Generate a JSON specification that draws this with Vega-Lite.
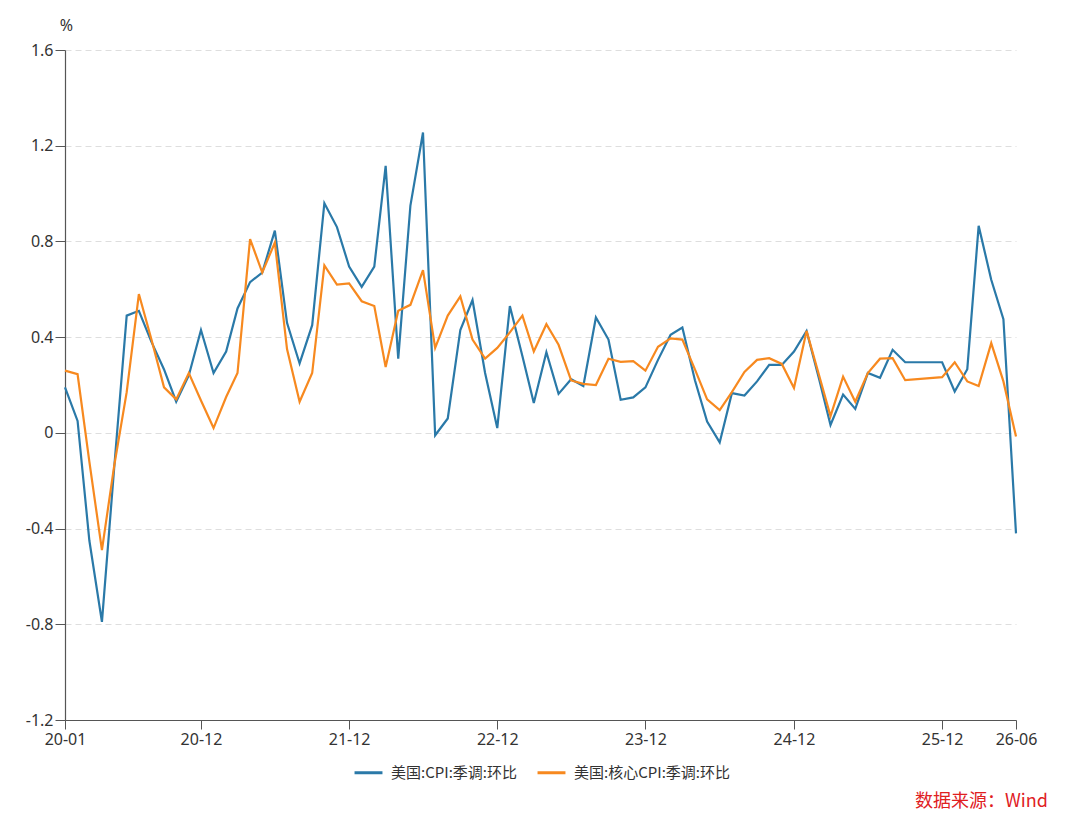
{
  "$schema": "https://vega.github.io/schema/vega-lite/v6.json",
  "autosize": {"type": "none"},
  "padding": {"left": 65, "top": 50, "right": 64, "bottom": 106},
  "width": 951,
  "height": 670,
  "title": {
    "text": "数据来源：Wind",
    "orient": "bottom",
    "anchor": "end",
    "dx": 11,
    "offset": 12,
    "font": "Noto Sans CJK SC",
    "fontSize": 18,
    "fontWeight": "normal",
    "color": "#e0201f"
  },
  "data": {
    "values": [
      {"month": "2020-01", "cpi": 0.19, "core": 0.26},
      {"month": "2020-02", "cpi": 0.05, "core": 0.245},
      {"month": "2020-03", "cpi": -0.45, "core": -0.12},
      {"month": "2020-04", "cpi": -0.79, "core": -0.49},
      {"month": "2020-05", "cpi": -0.15, "core": -0.14},
      {"month": "2020-06", "cpi": 0.49, "core": 0.17},
      {"month": "2020-07", "cpi": 0.51, "core": 0.58},
      {"month": "2020-08", "cpi": 0.38, "core": 0.39},
      {"month": "2020-09", "cpi": 0.265, "core": 0.19},
      {"month": "2020-10", "cpi": 0.13, "core": 0.14},
      {"month": "2020-11", "cpi": 0.24, "core": 0.25},
      {"month": "2020-12", "cpi": 0.43, "core": 0.135},
      {"month": "2021-01", "cpi": 0.25, "core": 0.02},
      {"month": "2021-02", "cpi": 0.34, "core": 0.15},
      {"month": "2021-03", "cpi": 0.52, "core": 0.25},
      {"month": "2021-04", "cpi": 0.63, "core": 0.81},
      {"month": "2021-05", "cpi": 0.67, "core": 0.67},
      {"month": "2021-06", "cpi": 0.845, "core": 0.795},
      {"month": "2021-07", "cpi": 0.46, "core": 0.35},
      {"month": "2021-08", "cpi": 0.29, "core": 0.13},
      {"month": "2021-09", "cpi": 0.45, "core": 0.25},
      {"month": "2021-10", "cpi": 0.96, "core": 0.7},
      {"month": "2021-11", "cpi": 0.86, "core": 0.62},
      {"month": "2021-12", "cpi": 0.695, "core": 0.625},
      {"month": "2022-01", "cpi": 0.61, "core": 0.55},
      {"month": "2022-02", "cpi": 0.695, "core": 0.53},
      {"month": "2022-03", "cpi": 1.116, "core": 0.275},
      {"month": "2022-04", "cpi": 0.31, "core": 0.51},
      {"month": "2022-05", "cpi": 0.95, "core": 0.535},
      {"month": "2022-06", "cpi": 1.255, "core": 0.68},
      {"month": "2022-07", "cpi": -0.01, "core": 0.355},
      {"month": "2022-08", "cpi": 0.06, "core": 0.49},
      {"month": "2022-09", "cpi": 0.43, "core": 0.57},
      {"month": "2022-10", "cpi": 0.555, "core": 0.39},
      {"month": "2022-11", "cpi": 0.25, "core": 0.31},
      {"month": "2022-12", "cpi": 0.02, "core": 0.355},
      {"month": "2023-01", "cpi": 0.53, "core": 0.42},
      {"month": "2023-02", "cpi": 0.32, "core": 0.49},
      {"month": "2023-03", "cpi": 0.125, "core": 0.34},
      {"month": "2023-04", "cpi": 0.337, "core": 0.454},
      {"month": "2023-05", "cpi": 0.163, "core": 0.368},
      {"month": "2023-06", "cpi": 0.224, "core": 0.219},
      {"month": "2023-07", "cpi": 0.196, "core": 0.205},
      {"month": "2023-08", "cpi": 0.482, "core": 0.2},
      {"month": "2023-09", "cpi": 0.39, "core": 0.31},
      {"month": "2023-10", "cpi": 0.138, "core": 0.297},
      {"month": "2023-11", "cpi": 0.148, "core": 0.3},
      {"month": "2023-12", "cpi": 0.19, "core": 0.26},
      {"month": "2024-01", "cpi": 0.305, "core": 0.36},
      {"month": "2024-02", "cpi": 0.41, "core": 0.395},
      {"month": "2024-03", "cpi": 0.44, "core": 0.39},
      {"month": "2024-04", "cpi": 0.22, "core": 0.265},
      {"month": "2024-05", "cpi": 0.047, "core": 0.14},
      {"month": "2024-06", "cpi": -0.04, "core": 0.095},
      {"month": "2024-07", "cpi": 0.166, "core": 0.17},
      {"month": "2024-08", "cpi": 0.156, "core": 0.255},
      {"month": "2024-09", "cpi": 0.215, "core": 0.305},
      {"month": "2024-10", "cpi": 0.284, "core": 0.312},
      {"month": "2024-11", "cpi": 0.284, "core": 0.288},
      {"month": "2024-12", "cpi": 0.34, "core": 0.187},
      {"month": "2025-01", "cpi": 0.426, "core": 0.426},
      {"month": "2025-02", "cpi": 0.224, "core": 0.24},
      {"month": "2025-03", "cpi": 0.033, "core": 0.07},
      {"month": "2025-04", "cpi": 0.16, "core": 0.235},
      {"month": "2025-05", "cpi": 0.1, "core": 0.13},
      {"month": "2025-06", "cpi": 0.25, "core": 0.25},
      {"month": "2025-07", "cpi": 0.23, "core": 0.31},
      {"month": "2025-08", "cpi": 0.347, "core": 0.312},
      {"month": "2025-09", "cpi": 0.295, "core": 0.22},
      {"month": "2025-12", "cpi": 0.295, "core": 0.233},
      {"month": "2026-01", "cpi": 0.173, "core": 0.295},
      {"month": "2026-02", "cpi": 0.266, "core": 0.215},
      {"month": "2026-03", "cpi": 0.865, "core": 0.196},
      {"month": "2026-04", "cpi": 0.64, "core": 0.375},
      {"month": "2026-05", "cpi": 0.475, "core": 0.215},
      {"month": "2026-06", "cpi": -0.42, "core": -0.015}
    ]
  },
  "transform": [
    {"fold": ["cpi", "core"], "as": ["series", "value"]}
  ],
  "mark": {"type": "line", "strokeWidth": 2.2},
  "encoding": {
    "x": {
      "field": "month",
      "type": "temporal",
      "scale": {
        "type": "utc",
        "nice": false,
        "domain": [
          {"year": 2020, "month": 1, "date": 1, "utc": true},
          {"year": 2026, "month": 6, "date": 1, "utc": true}
        ]
      },
      "axis": {
        "title": null,
        "format": "%y-%m",
        "grid": false,
        "tickSize": 9,
        "labelPadding": 2,
        "labelFlush": false,
        "labelOverlap": false,
        "values": [
          {"year": 2020, "month": 1, "date": 1, "utc": true},
          {"year": 2020, "month": 12, "date": 1, "utc": true},
          {"year": 2021, "month": 12, "date": 1, "utc": true},
          {"year": 2022, "month": 12, "date": 1, "utc": true},
          {"year": 2023, "month": 12, "date": 1, "utc": true},
          {"year": 2024, "month": 12, "date": 1, "utc": true},
          {"year": 2025, "month": 12, "date": 1, "utc": true},
          {"year": 2026, "month": 6, "date": 1, "utc": true}
        ]
      }
    },
    "y": {
      "field": "value",
      "type": "quantitative",
      "scale": {"domain": [-1.2, 1.6], "nice": false, "zero": false},
      "axis": {
        "title": "%",
        "titleAngle": 0,
        "titleX": 1,
        "titleY": -25,
        "titleAlign": "center",
        "titleBaseline": "middle",
        "titleFont": "Noto Sans",
        "titleFontWeight": "normal",
        "titleFontSize": 16,
        "titleColor": "#333",
        "values": [-1.2, -0.8, -0.4, 0, 0.4, 0.8, 1.2, 1.6],
        "labelExpr": "'' + datum.value",
        "tickSize": 10,
        "labelPadding": 2,
        "labelFlush": false,
        "grid": true,
        "gridDash": [6, 4],
        "gridColor": "#dedede",
        "gridWidth": 1
      }
    },
    "color": {
      "field": "series",
      "type": "nominal",
      "scale": {"domain": ["cpi", "core"], "range": ["#2a79a8", "#f7891f"]},
      "legend": {
        "title": null,
        "orient": "none",
        "legendX": 288,
        "legendY": 707,
        "direction": "horizontal",
        "symbolType": "stroke",
        "symbolSize": 780,
        "symbolStrokeWidth": 3,
        "labelFontSize": 15,
        "labelFont": "Noto Sans CJK SC",
        "labelColor": "#333",
        "labelOffset": 7,
        "columnPadding": 14,
        "labelExpr": "datum.label == 'cpi' ? '美国:CPI:季调:环比' : '美国:核心CPI:季调:环比'"
      }
    }
  },
  "config": {
    "view": {"stroke": null},
    "font": "Noto Sans CJK SC",
    "axis": {
      "labelFont": "Noto Sans",
      "labelFontSize": 16,
      "labelColor": "#333",
      "domainColor": "#555",
      "tickColor": "#555",
      "domainWidth": 1.2
    }
  }
}
